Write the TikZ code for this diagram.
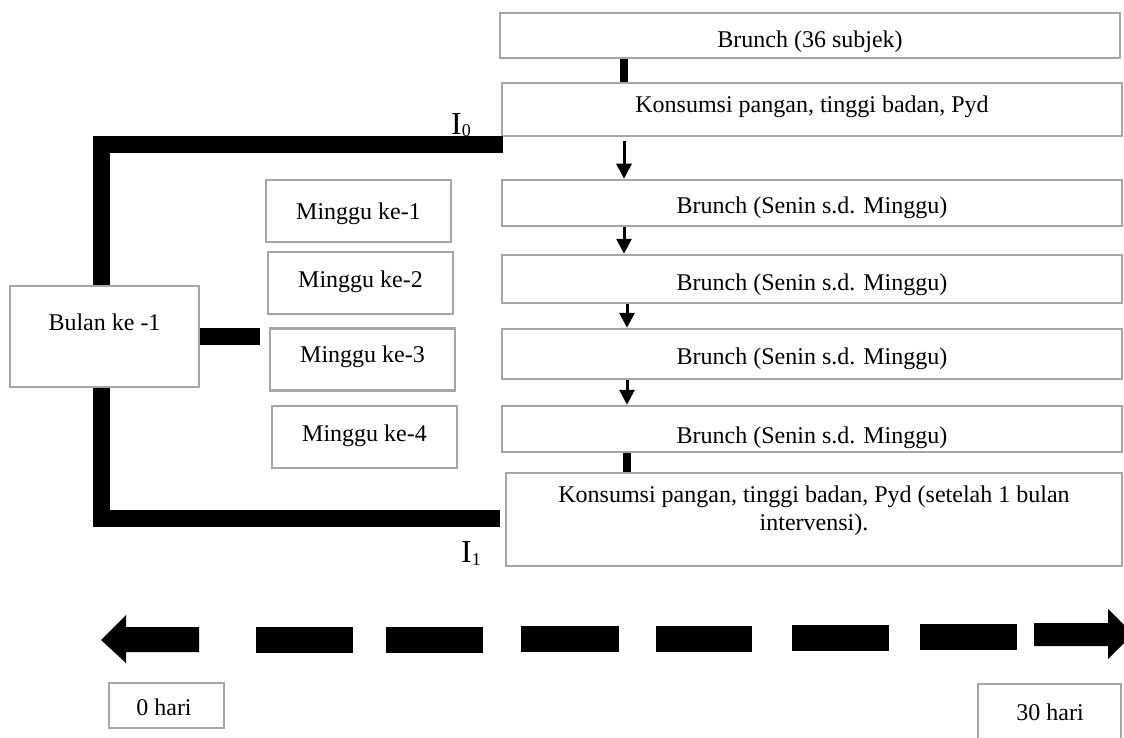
\documentclass[tikz,border=0pt]{standalone}
\usepackage{fontspec}
\setmainfont{Liberation Serif}
\usetikzlibrary{arrows.meta}
\definecolor{boxgray}{HTML}{A6A6A6}

\tikzset{
  box/.style={draw=boxgray, line width=2.5pt, inner sep=0pt},
  txt/.style={anchor=base, inner sep=0pt, font=\fontsize{24}{28}\selectfont, align=center},
  bracket/.style={line width=17pt},
  joint/.style={line width=8pt},
  flow/.style={line width=3pt, -{Triangle[length=15pt,width=15pt]}},
}

\begin{document}
\begin{tikzpicture}[x=1pt, y=-1pt]
\useasboundingbox (0,0) rectangle (1124,738);

% right column
\node[box, minimum width=620pt, minimum height=45pt] (b1) at (810,35.5) {};
\node[txt] (b1t) at (810,48) {Brunch (36 subjek)};
\node[box, minimum width=620pt, minimum height=53pt] (k1) at (812,109.5) {};
\node[txt] (k1t) at (812,113) {Konsumsi pangan, tinggi badan, Pyd};
\foreach \n/\y/\h/\b in {1/203/46/214, 2/279/48/290, 3/354/50/364, 4/429/46/443}{
  \node[box, minimum width=620pt, minimum height=\h pt] (br\n) at (812,\y) {};
  \node[txt] (br\n t) at (812,\b) {Brunch (Senin s.d. Minggu)};
}
\node[box, minimum width=616pt, minimum height=93pt] (k2) at (814,519.5) {};
% base = last line
\node[txt] (k2t) at (814,530) {Konsumsi pangan, tinggi badan, Pyd (setelah 1 bulan\\intervensi).};

% weeks and month
\foreach \n/\x/\y/\b in {1/358.5/211/219, 2/360.5/283/287, 3/362.5/359.5/362, 4/364.5/437/441}{
  \node[box, minimum width=185pt, minimum height=62pt] (m\n) at (\x,\y) {};
  \node[txt] (m\n t) at (\x,\b) {Minggu ke-\n};
}
\node[box, minimum width=189pt, minimum height=101pt] (bulan) at (104.5,336.5) {};
\node[txt] (bulant) at (104.5,330) {Bulan ke -1};

% column links
\coordinate (colA) at (624,0);
\coordinate (colB) at (627,0);
\draw[joint] (b1.south -| colA) -- (k1.north -| colA);
\draw[flow, shorten <=4pt] (k1.south -| colA) -- (br1.north -| colA);
\draw[flow] (br1.south -| colA) -- (br2.north -| colA);
\draw[flow] (br2.south -| colB) -- (br3.north -| colB);
\draw[flow] (br3.south -| colB) -- (br4.north -| colB);
\draw[joint] (br4.south -| colB) -- (k2.north -| colB);

% bracket
\coordinate (i0) at (503,145);
\coordinate (i1) at (500,518);
\draw[bracket] (i0) -| ([xshift=-3.5pt]bulan.north);
\draw[bracket] ([xshift=-3.5pt]bulan.south) |- (i1);
\draw[bracket] (bulan.east) -- ([xshift=-9pt]m3.west |- bulan.east);
\node[anchor=base west, inner sep=0pt, font=\fontsize{32}{32}\selectfont] (lbl0) at (451,135) {I\raisebox{-2pt}{\fontsize{18}{18}\selectfont 0}};
\node[anchor=base west, inner sep=0pt, font=\fontsize{32}{32}\selectfont] (lbl1) at (461,562) {I\raisebox{-3pt}{\fontsize{18}{18}\selectfont 1}};

% time line
\fill (101,640) -- (126,615) -- (126,627) -- (199,627) -- (199,652) -- (126,652) -- (126,663) -- cycle;
\foreach \a/\b/\y in {256/353/640, 386/483/640, 521/619/639, 656/752/639, 792/889/638, 920/1017/637}
  \fill (\a,{\y-13}) rectangle (\b,{\y+13});
\fill (1034,623) -- (1108,623) -- (1108,609) -- (1133,634) -- (1108,659) -- (1108,646) -- (1034,646) -- cycle;
\node[box, minimum width=115pt, minimum height=45pt] (h0) at (166.5,705.5) {};
\node[txt] (h0t) at (164,715) {0 hari};
\node[box, minimum width=143pt, minimum height=62pt] (h30) at (1049.5,715) {};
\node[txt] (h30t) at (1050,720) {30 hari};

\end{tikzpicture}
\end{document}
